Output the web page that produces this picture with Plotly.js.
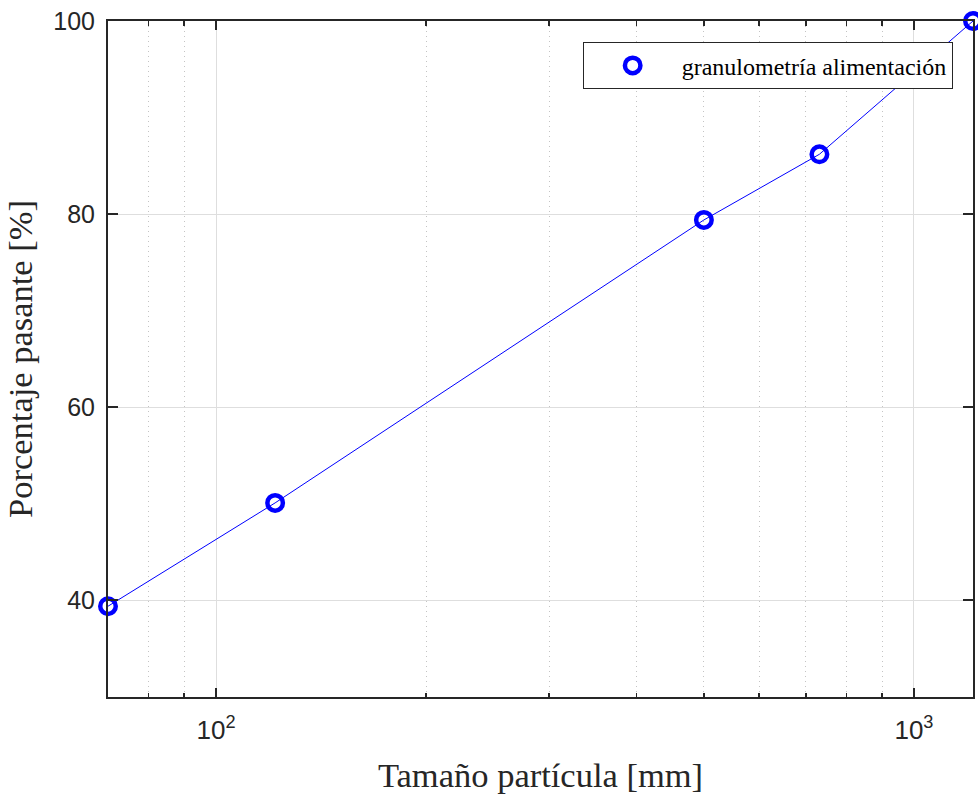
<!DOCTYPE html>
<html>
<head>
<meta charset="utf-8">
<script src="https://cdn.plot.ly/plotly-3.0.1.min.js"></script>
<style>
  html, body { margin: 0; padding: 0; background: #fff; }
  #chart { width: 978px; height: 794px; }
</style>
</head>
<body>
<div id="chart"></div>
<script>
// Feed particle size distribution (cumulative passing)
const tamano = [70, 121.5, 500, 732, 1215];          // particle size [mm]
const pasante = [39.4, 50.1, 79.4, 86.2, 100];       // percent passing [%]
const serieNombre = 'granulometría alimentación';
const xTickVals = [100, 1000];
const xTickText = ['10<sup>2</sup>', '10<sup>3</sup>'];
const xMinorVals = [70, 80, 90, 200, 300, 400, 500, 600, 700, 800, 900];
const yTickVals = [40, 60, 80, 100];

const azul = 'rgb(0,0,255)';
const ejeColor = '#262626';
const serif = 'Liberation Serif, Times New Roman, serif';
const sans = 'Liberation Sans, Arial, sans-serif';

const traces = [
  {
    x: tamano, y: pasante,
    type: 'scatter', mode: 'lines',
    line: { color: azul, width: 1 },
    showlegend: false, hoverinfo: 'skip'
  },
  {
    x: tamano, y: pasante,
    type: 'scatter', mode: 'markers',
    name: serieNombre,
    marker: { symbol: 'circle-open', size: 15.5, color: azul, line: { color: azul, width: 4.5 } },
    cliponaxis: false
  }
];

const layout = {
  width: 978, height: 794,
  margin: { l: 107.5, r: 4.7, t: 20.7, b: 97.3, pad: 0 },
  paper_bgcolor: '#fff', plot_bgcolor: '#fff',
  showlegend: true,
  legend: {
    x: 0.9765, xanchor: 'right', y: 0.9685, yanchor: 'top',
    bgcolor: '#fff', bordercolor: ejeColor, borderwidth: 1,
    font: { family: serif, size: 24, color: '#000' },
    itemwidth: 88
  },
  xaxis: {
    type: 'log',
    range: [Math.log10(tamano[0]), Math.log10(tamano[tamano.length - 1])],
    tickmode: 'array', tickvals: xTickVals, ticktext: xTickText,
    ticks: 'inside', ticklen: 9, tickwidth: 2, tickcolor: ejeColor,
    showline: true, linecolor: ejeColor, linewidth: 2, mirror: 'allticks',
    showgrid: true, gridcolor: '#dedede', gridwidth: 1,
    zeroline: false,
    tickfont: { family: sans, size: 26, color: ejeColor },
    ticklabelstandoff: 9,
    minor: {
      tickvals: xMinorVals,
      ticks: 'inside', ticklen: 4.5, tickwidth: 1.5, tickcolor: ejeColor,
      showgrid: true, gridcolor: '#c4c4c4', griddash: '1px,4px', gridwidth: 1
    },
    title: {
      text: 'Tamaño partícula [mm]',
      font: { family: serif, size: 34.5, color: ejeColor },
      standoff: 19
    }
  },
  yaxis: {
    range: [30, 100],
    tickmode: 'array', tickvals: yTickVals,
    ticks: 'inside', ticklen: 10, tickwidth: 2, tickcolor: ejeColor,
    showline: true, linecolor: ejeColor, linewidth: 2, mirror: 'allticks',
    showgrid: true, gridcolor: '#dedede', gridwidth: 1,
    zeroline: false,
    tickfont: { family: sans, size: 25, color: ejeColor },
    ticklabelstandoff: 6,
    title: {
      text: 'Porcentaje pasante [%]',
      font: { family: serif, size: 34.5, color: ejeColor },
      standoff: 10
    }
  }
};

Plotly.newPlot('chart', traces, layout, { displayModeBar: false, staticPlot: true });
</script>
</body>
</html>
